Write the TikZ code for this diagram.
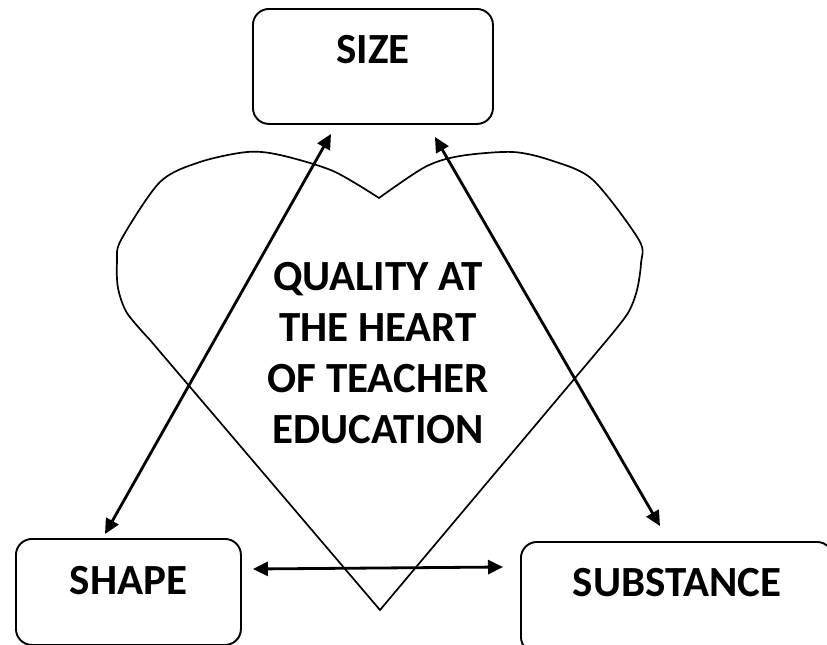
\documentclass[tikz,border=0pt]{standalone}
\usepackage{fontspec}
\setmainfont{Carlito}
\usetikzlibrary{arrows.meta}

\begin{document}
\begin{tikzpicture}[x=1pt,y=-1pt,
  topicbox/.style={draw, line width=1.9pt, rounded corners=16pt, inner sep=0pt,
    font=\fontsize{43}{50}\selectfont\bfseries},
  link/.style={{Triangle[length=15pt,width=14pt]}-{Triangle[length=15pt,width=14pt]}, line width=2.8pt}]
\useasboundingbox (0,0) rectangle (827,645);
\clip (0,0) rectangle (827,645);

% the heart
\draw[line width=1.7pt] (380,610)
  -- plot[smooth,tension=0.5] coordinates {(150,340) (127,313) (118,288) (117,262) (121,240) (160,182) (200,162) (247,152) (280,155) (333,171) (379,198)}
  -- plot[smooth,tension=0.5] coordinates {(379,198) (425,167) (460,156) (513,152) (553,161) (593,180) (639,240) (641,263) (637,290) (628,313) (607,340)}
  -- cycle;

\node[align=center, font=\fontsize{43}{51}\selectfont\bfseries] (quality) at (378,353)
  {QUALITY AT\\THE HEART\\OF TEACHER\\EDUCATION};

% the three boxes
\node[topicbox, anchor=north west, minimum width=240pt, text height=55pt, text depth=60pt] (size) at (252,8) {SIZE};
\node[topicbox, anchor=north west, minimum width=225pt, text height=56pt, text depth=50pt] (shape) at (15,538) {SHAPE};
\node[topicbox, anchor=north west, minimum width=312pt, text height=55pt, text depth=56pt] (substance) at (520,541) {SUBSTANCE};

% links between them
\draw[link] ([shift={(79,9)}]size.south west) -- ([shift={(90,-4)}]shape.north west);
\draw[link] ([shift={(-59,12)}]size.south east) -- ([shift={(140,-15)}]substance.north west);
\draw[link] ([shift={(11,31)}]shape.north east) -- ([shift={(-17,26)}]substance.north west);

\end{tikzpicture}
\end{document}
